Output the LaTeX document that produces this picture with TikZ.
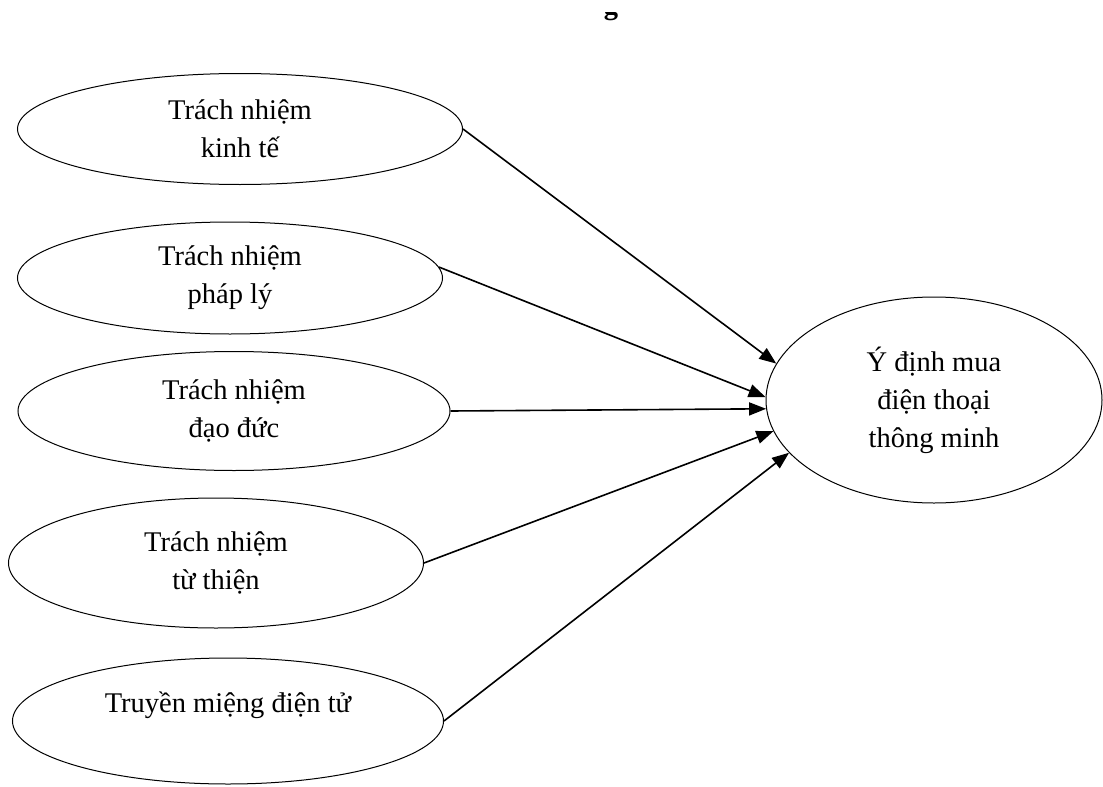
\documentclass[tikz,border=0pt]{standalone}
\usepackage{fontspec}
\setmainfont{Liberation Serif}
\usetikzlibrary{shapes.geometric,arrows.meta}
\begin{document}
\begin{tikzpicture}[x=1pt,y=-1pt,
  oval/.style={draw, ellipse, inner sep=0pt, line width=1pt, align=center,
               font=\fontsize{28.5}{38}\selectfont},
  link/.style={line width=1.6pt, -{Triangle[length=17pt,width=13pt]}}]
\useasboundingbox (0,0) rectangle (1103,787);
\begin{scope}
  \clip (595,12) rectangle (630,24);
  \node[font=\fontsize{28.5}{38}\selectfont\bfseries, anchor=base, inner sep=0pt] (g) at (611,14.5) {g};
\end{scope}
\node[oval, minimum width=445pt, minimum height=111pt] (E1) at (240,129) {Trách nhiệm\\kinh tế};
\node[oval, minimum width=425pt, minimum height=112pt] (E2) at (230,278) {Trách nhiệm\\pháp lý};
\node[oval, minimum width=432pt, minimum height=119pt] (E3) at (234,411) {Trách nhiệm\\đạo đức};
\node[oval, minimum width=415pt, minimum height=130pt] (E4) at (216,563) {Trách nhiệm\\từ thiện};
\node[oval, minimum width=431pt, minimum height=126pt] (E5) at (228,721) {Truyền miệng điện tử\\\mbox{}};
\node[oval, minimum width=336pt, minimum height=206pt] (T) at (934,400) {Ý định mua\\điện thoại\\thông minh};
\draw[link] (E1.east) -- (T.167);
\draw[link] (E2.3) -- (T.179);
\draw[link] (E3.east) -- (T.183);
\draw[link] (E4.east) -- (T.191.5);
\draw[link] (E5.east) -- (T.200);
\end{tikzpicture}
\end{document}
